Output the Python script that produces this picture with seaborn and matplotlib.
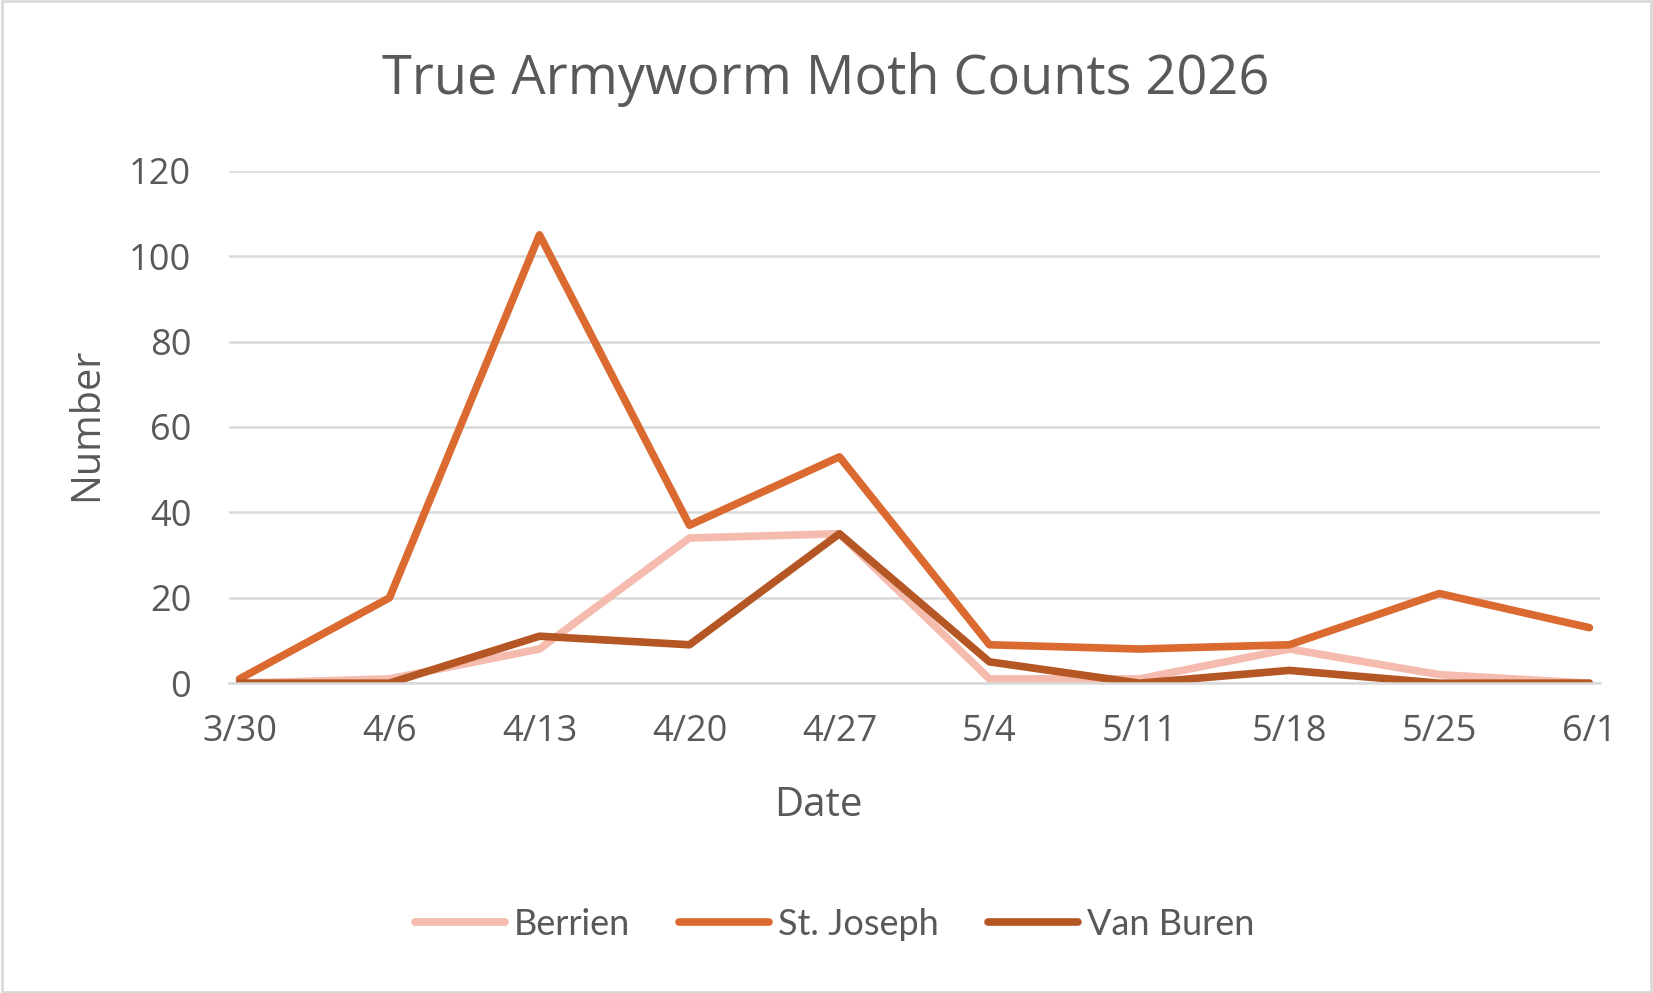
import matplotlib
matplotlib.use("Agg")
import matplotlib.pyplot as plt
import seaborn as sns
import pandas as pd
import numpy as np
from matplotlib.patches import Rectangle

dates = ["3/30", "4/6", "4/13", "4/20", "4/27", "5/4", "5/11", "5/18", "5/25", "6/1"]
berrien = [0, 1, 8, 34, 35, 1, 1, 8, 2, 0]
st_joseph = [1, 20, 105, 37, 53, 9, 8, 9, 21, 13]
van_buren = [0, 0, 11, 9, 35, 5, 0, 3, 0, 0]
series_names = ["Berrien", "St. Joseph", "Van Buren"]
colors = ["#F4BBAE", "#DA6A2F", "#B55724"]

sns.set_theme(style="white")
plt.rcParams["font.family"] = ["Open Sans", "DejaVu Sans"]

day_offsets = [7 * i for i in range(len(dates))]
df = pd.DataFrame({
    "day": day_offsets * 3,
    "value": berrien + st_joseph + van_buren,
    "County": sum([[n] * len(dates) for n in series_names], []),
})

fig = plt.figure(figsize=(16.53, 9.93), dpi=100)
ax = fig.add_axes([0.1384, 0.312, 0.968 - 0.1384, 0.828 - 0.312])

sns.lineplot(data=df, x="day", y="value", hue="County", palette=colors,
             hue_order=series_names, linewidth=5.5, ax=ax, legend=True,
             solid_capstyle="round", solid_joinstyle="round")

txt = "#595959"
ax.set_xlim(-0.5, 63.5)
ax.set_ylim(0, 120)
ax.set_yticks(range(0, 121, 20))
ax.yaxis.grid(True, color="#D9D9D9", linewidth=1.8)
ax.set_axisbelow(True)
ax.set_xticks(day_offsets)
ax.set_xticklabels(dates)
ax.set_xticks([-0.5 + 7 * k for k in range(10)] + [63.5], minor=True)
ax.tick_params(axis="x", which="major", length=0, labelsize=26, colors=txt, pad=22)
ax.tick_params(axis="x", which="minor", length=10, width=1.8, color="#D9D9D9", direction="out")
ax.tick_params(axis="y", length=0, labelsize=26, colors=txt, pad=27)
for s in ["top", "right", "left"]:
    ax.spines[s].set_visible(False)
ax.spines["bottom"].set_color("#D9D9D9")
ax.spines["bottom"].set_linewidth(1.8)
ax.set_xlabel("Date", fontsize=29, color=txt)
ax.xaxis.set_label_coords(0.430, -0.199)
ax.set_ylabel("Number", fontsize=28.5, color=txt)
ax.yaxis.set_label_coords(-0.0886, 0.505)

fig.suptitle("True Armyworm Moth Counts 2026", fontsize=39, color=txt, x=0.4995, y=0.948)

handles, labels = ax.get_legend_handles_labels()
ax.get_legend().remove()
for h in handles:
    h.set_solid_capstyle("round")
leg = fig.legend(handles, labels, loc="center", bbox_to_anchor=(0.505, 0.069), ncol=3,
                 frameon=False, handlelength=2.5, handletextpad=0.25, columnspacing=1.35,
                 prop={"family": ["Lato", "DejaVu Sans"], "size": 26})
for t in leg.get_texts():
    t.set_color(txt)

fig.add_artist(Rectangle((0.001, 0.001), 0.998, 0.998, transform=fig.transFigure,
                         fill=False, edgecolor="#D9D9D9", linewidth=2))

fig.savefig("out.png", dpi=100)
